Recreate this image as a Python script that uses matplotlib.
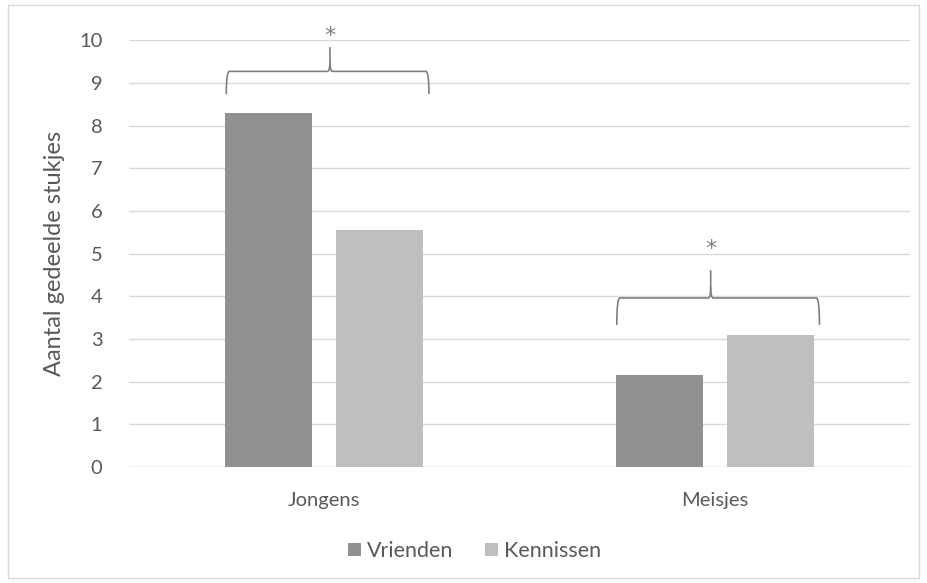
import matplotlib
matplotlib.use("Agg")
import matplotlib.pyplot as plt
from matplotlib.path import Path
from matplotlib.patches import PathPatch, Rectangle
import numpy as np

plt.rcParams['font.family'] = ['Lato', 'DejaVu Sans']

categories = ["Jongens", "Meisjes"]
series_names = ["Vrienden", "Kennissen"]
vrienden = [8.3, 2.15]
kennissen = [5.56, 3.1]
y_ticks = [0, 1, 2, 3, 4, 5, 6, 7, 8, 9, 10]
significance = ["*", "*"]

col_v = "#919191"
col_k = "#bfbfbf"
txt = "#595959"
grid = "#d9d9d9"

fig = plt.figure(figsize=(9.27, 5.83), dpi=100)
fig.patches.append(Rectangle((0.009, 0.008), 0.982, 0.984, transform=fig.transFigure,
                             fill=False, edgecolor="#d9d9d9", linewidth=1.0))
ax = fig.add_axes([0.139, 0.199, 0.8425, 0.732])

x = np.arange(len(categories))
w = 0.223
off = 0.142
ax.bar(x - off, vrienden, w, color=col_v, label=series_names[0], zorder=3)
ax.bar(x + off, kennissen, w, color=col_k, label=series_names[1], zorder=3)

ax.set_xlim(-0.5, 1.5)
ax.set_ylim(0, 10)
ax.set_yticks(y_ticks)
ax.set_xticks(x)
ax.set_xticklabels(categories)
ax.tick_params(axis='y', length=0, pad=19, labelsize=14.5, labelcolor=txt)
ax.tick_params(axis='x', length=0, pad=18, labelsize=14.5, labelcolor=txt)
ax.yaxis.grid(True, color=grid, linewidth=1, zorder=0)
for s in ax.spines.values():
    s.set_visible(False)
ax.axhline(0, color=grid, linewidth=1, zorder=2)
ax.set_ylabel("Aantal gedeelde stukjes", fontsize=17, color=txt, labelpad=10)


def brace(ax, x0, x1, xm, yb, yh, yp):
    cx = 0.008
    verts = [
        (x0, yb), (x0, yh), (x0 + cx, yh),
        (xm - cx * 0.8, yh),
        (xm, yh), (xm, yh + (yp - yh) * 0.4),
        (xm, yp),
    ]
    codes = [Path.MOVETO, Path.CURVE3, Path.CURVE3, Path.LINETO,
             Path.CURVE3, Path.CURVE3, Path.LINETO]
    verts2 = [
        (x1, yb), (x1, yh), (x1 - cx, yh),
        (xm + cx * 0.8, yh),
        (xm, yh), (xm, yh + (yp - yh) * 0.4),
    ]
    codes2 = [Path.MOVETO, Path.CURVE3, Path.CURVE3, Path.LINETO,
              Path.CURVE3, Path.CURVE3]
    for v, c in ((verts, codes), (verts2, codes2)):
        ax.add_patch(PathPatch(Path(v, c), fill=False, edgecolor="#7f7f7f",
                               linewidth=1.2, zorder=4, clip_on=False))


brace_specs = [
    # (bottom, horizontal, peak, star)
    (8.74, 9.27, 9.84, 10.1),
    (3.33, 3.96, 4.61, 5.1),
]
for i, (yb, yh, yp, ys) in enumerate(brace_specs):
    x0 = x[i] - off - w / 2 + 0.003
    x1 = x[i] + off + w / 2 + 0.015
    xm = x[i] + 0.015 - 0.025 * i
    brace(ax, x0, x1, xm, yb, yh, yp)
    ax.text(xm, ys, significance[i], ha='center', va='center', fontsize=16,
            color="#7f7f7f", zorder=5, clip_on=False, family='DejaVu Sans')

leg = fig.legend(loc='center', bbox_to_anchor=(0.512, 0.055), ncol=2, frameon=False,
                 fontsize=15.5, handlelength=0.6, handleheight=0.6, handletextpad=0.25,
                 columnspacing=1.5)
for t in leg.get_texts():
    t.set_color(txt)

fig.savefig("out.png", dpi=100)
